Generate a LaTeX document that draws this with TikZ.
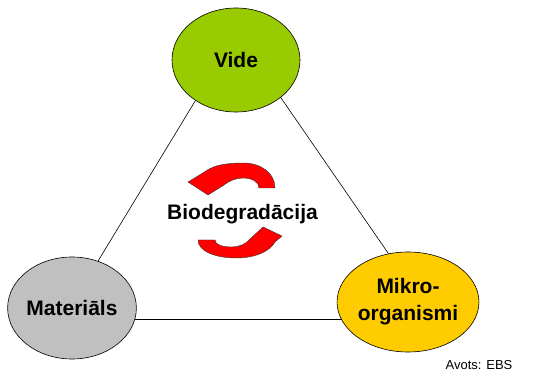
\documentclass[tikz,border=0pt]{standalone}
\usepackage{fontspec}
\setmainfont{Liberation Sans}
\usetikzlibrary{shapes.geometric}
\definecolor{videgreen}{HTML}{99CC00}
\definecolor{matgray}{HTML}{C0C0C0}
\definecolor{mikroyellow}{HTML}{FFCC00}
\begin{document}
\begin{tikzpicture}[x=1pt,y=-1pt,
  blob/.style={ellipse,draw=black,line width=0.6pt,inner sep=0pt,align=center,
    font=\fontsize{21}{27}\selectfont\bfseries},
  link/.style={draw=black,line width=0.6pt},
  turn/.style={fill=red,draw=black!80,line width=0.4pt,line join=round}]
\useasboundingbox (0,0) rectangle (543,371);
\node[blob,fill=videgreen,minimum width=128pt,minimum height=104pt] (vide) at (236,60) {Vide};
\node[blob,fill=matgray,minimum width=123pt,minimum height=102pt] (mat) at (72,308) {Materi\=als};
\node[blob,fill=mikroyellow,minimum width=122pt,minimum height=100pt] (mikro) at (408,302) {Mikro-\\organismi};
\draw[link] (vide.225) -- (mat.61);
\draw[link] (vide.-40) -- (mikro.112);
\draw[link] (mat.-10.3) -- (mat.-10.3 -| mikro.196.5);
\node[font=\fontsize{21}{25}\selectfont\bfseries] (bio) at (242.5,214) {Biodegrad\=acija};
% top turning arrow
\draw[turn] (275,188) .. controls (275,173) and (261,163) .. (243,163)
  .. controls (227,163) and (214,165) .. (206,171)
  -- (188,182) -- (208,195) -- (224,185)
  .. controls (229,181) and (236,178) .. (243,178)
  .. controls (252,178) and (259,182) .. (259,188) -- cycle;
% bottom turning arrow
\draw[turn] (198,240) .. controls (198,251) and (215,258) .. (236,258)
  .. controls (256,258) and (270,251) .. (275,242)
  -- (282,236) -- (263,227) -- (250,239)
  .. controls (246,244) and (239,247) .. (232,247)
  .. controls (223,247) and (215,245) .. (215,240) -- cycle;
\node[font=\fontsize{13}{15}\selectfont] (src) at (479,365) {Avots: EBS};
\end{tikzpicture}
\end{document}
